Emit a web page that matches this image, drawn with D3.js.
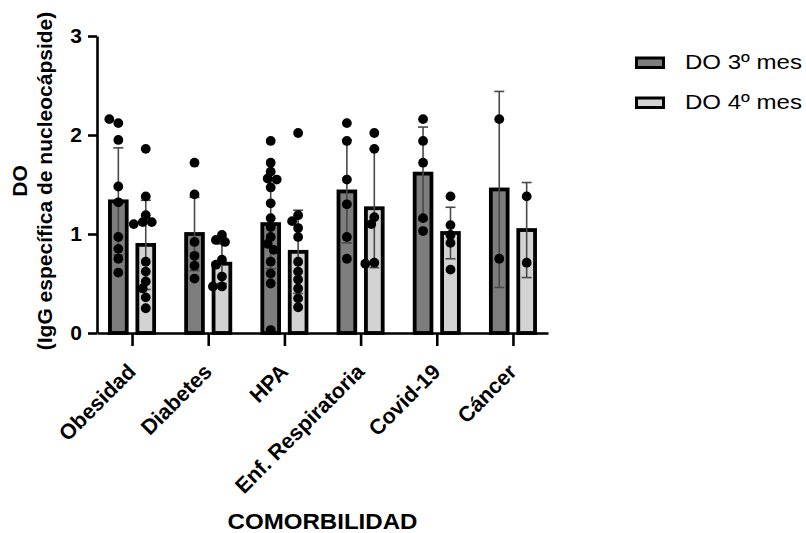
<!DOCTYPE html>
<html>
<head>
<meta charset="utf-8">
<script src="https://cdn.jsdelivr.net/npm/d3@7"></script>
<style>
  body { margin: 0; background: #fff; }
  text { font-family: Arial, "Liberation Sans", sans-serif; fill: #000; }
</style>
</head>
<body>
<svg id="chart" width="806" height="533"></svg>
<script>
// categories and legend names
var categories = ["Obesidad", "Diabetes", "HPA", "Enf. Respiratoria", "Covid-19", "Cáncer"];
var seriesNames = ["DO 3º mes", "DO 4º mes"];

// bar heights (mean)
var mean3 = [1.33, 1.00, 1.10, 1.43, 1.61, 1.45];
var mean4 = [0.89, 0.70, 0.82, 1.26, 1.01, 1.04];

// error bars (SD)
var sd3 = [0.54, 0.37, 0.45, 0.52, 0.47, 0.99];
var sd4 = [0.45, 0.20, 0.42, 0.60, 0.26, 0.48];

// individual points per category
var points3 = [
  [2.12, 2.16, 1.95, 1.48, 1.32, 0.97, 0.85, 0.75, 0.61],
  [1.72, 1.40, 0.92, 0.78, 0.68, 0.55],
  [1.94, 1.72, 1.63, 1.56, 1.55, 1.47, 1.31, 1.16, 1.07, 0.97, 0.90, 0.84, 0.72, 0.60, 0.50, 0.03],
  [2.12, 1.94, 1.55, 1.30, 0.97, 0.75],
  [2.16, 1.94, 1.72, 1.16, 1.03],
  [2.16, 0.75]
];
var points4 = [
  [1.86, 1.38, 1.19, 1.12, 1.12, 1.10, 0.72, 0.62, 0.52, 0.45, 0.36, 0.25],
  [0.99, 0.94, 0.92, 0.74, 0.69, 0.57, 0.47, 0.47],
  [2.02, 1.19, 1.13, 1.06, 0.97, 0.72, 0.62, 0.54, 0.45, 0.35, 0.26],
  [2.02, 1.86, 1.17, 1.10, 0.71, 0.70],
  [1.38, 1.09, 0.99, 0.91, 0.64],
  [1.38, 0.71]
];

var yTicks = [0, 1, 2, 3];

var means = [mean3, mean4];
var sds = [sd3, sd4];
var points = [points3, points4];
var fills = ["#7d7d7d", "#d3d3d3"];

var svg = d3.select("#chart");
var margin = {top: 36, right: 258, bottom: 200, left: 97};
var width = 806 - margin.left - margin.right;
var height = 533 - margin.top - margin.bottom;

var chartGroup = svg.append("g")
  .attr("transform", `translate(${margin.left}, ${margin.top})`);

// scales
var xScale = d3.scalePoint()
  .domain(categories)
  .range([0, width])
  .padding(0.46);

var xSub = d3.scaleBand()
  .domain([0, 1])
  .range([-24, 24])
  .paddingInner(0.25);

var yScale = d3.scaleLinear()
  .domain([0, 3])
  .range([height, 0]);

// flatten bars
var bars = [];
categories.forEach(function(c, i) {
  [0, 1].forEach(function(s) {
    bars.push({cat: c, s: s, mean: means[s][i], sd: sds[s][i], pts: points[s][i]});
  });
});

var barStroke = 3.8;
var bw = xSub.bandwidth();

// bars
chartGroup.selectAll(".bar")
  .data(bars)
  .enter()
  .append("rect")
  .attr("class", "bar")
  .attr("x", d => xScale(d.cat) + xSub(d.s) + barStroke / 2)
  .attr("y", d => yScale(d.mean))
  .attr("width", bw - barStroke)
  .attr("height", d => yScale(0) - yScale(d.mean))
  .attr("fill", d => fills[d.s])
  .attr("stroke", "#000")
  .attr("stroke-width", barStroke);

// axes
var leftAxis = d3.axisLeft(yScale)
  .tickValues(yTicks)
  .tickFormat(d3.format("d"))
  .tickSize(9)
  .tickSizeOuter(0)
  .tickPadding(6);

var bottomAxis = d3.axisBottom(xScale)
  .tickSize(13)
  .tickSizeOuter(0)
  .tickFormat("");

var yAxis = chartGroup.append("g").call(leftAxis);
var xAxis = chartGroup.append("g")
  .attr("transform", `translate(0, ${height})`)
  .call(bottomAxis);

[xAxis, yAxis].forEach(function(a) {
  a.select(".domain").attr("stroke", "#000").attr("stroke-width", 2.6);
  a.selectAll(".tick line").attr("stroke", "#000").attr("stroke-width", 2.6);
});

yAxis.selectAll(".tick text")
  .style("font-size", "21px")
  .style("font-weight", "bold")
  .attr("fill", "#000");

// error bars
var errGroup = chartGroup.selectAll(".err")
  .data(bars)
  .enter()
  .append("g")
  .attr("class", "err")
  .attr("transform", d => `translate(${xScale(d.cat) + xSub(d.s) + bw / 2}, 0)`)
  .attr("stroke", "#4a4a4a")
  .attr("stroke-width", 1.6);

errGroup.append("line")
  .attr("y1", d => yScale(d.mean - d.sd))
  .attr("y2", d => yScale(d.mean + d.sd));
errGroup.append("line")
  .attr("x1", -5).attr("x2", 5)
  .attr("y1", d => yScale(d.mean + d.sd))
  .attr("y2", d => yScale(d.mean + d.sd));
errGroup.append("line")
  .attr("x1", -5).attr("x2", 5)
  .attr("y1", d => yScale(d.mean - d.sd))
  .attr("y2", d => yScale(d.mean - d.sd));

// dots, spread sideways when they overlap
var r = 4.9;
function swarm(vals) {
  var placed = [];
  vals.forEach(function(v) {
    var py = yScale(v);
    var k = 0;
    var dx = 0;
    while (true) {
      dx = (k === 0) ? 0 : (k % 2 === 1 ? -1 : 1) * Math.ceil(k / 2) * 3;
      var ok = placed.every(p => Math.hypot(p.x - dx, p.y - py) >= 2 * r * 0.75);
      if (ok) break;
      k++;
    }
    placed.push({x: dx, y: py});
  });
  return placed;
}

bars.forEach(function(b) {
  var cx = xScale(b.cat) + xSub(b.s) + bw / 2;
  chartGroup.append("g")
    .selectAll("circle")
    .data(swarm(b.pts))
    .enter()
    .append("circle")
    .attr("cx", d => cx + d.x)
    .attr("cy", d => d.y)
    .attr("r", r)
    .attr("fill", "#000");
});

// x labels
chartGroup.selectAll(".xlab")
  .data(categories)
  .enter()
  .append("text")
  .attr("class", "xlab")
  .attr("transform", d => `translate(${xScale(d) + 5}, ${height + 40}) rotate(-45)`)
  .attr("text-anchor", "end")
  .style("font-size", "21.5px")
  .style("font-weight", "bold")
  .text(d => d);

// axis titles
svg.append("text")
  .attr("x", margin.left + width / 2)
  .attr("y", 529)
  .attr("text-anchor", "middle")
  .attr("textLength", 190)
  .attr("lengthAdjust", "spacingAndGlyphs")
  .style("font-size", "22px")
  .style("font-weight", "bold")
  .text("COMORBILIDAD");

var yTitle = svg.append("text")
  .attr("transform", "rotate(-90)")
  .attr("text-anchor", "middle")
  .style("font-size", "21px")
  .style("font-weight", "bold");
yTitle.append("tspan").attr("x", -181).attr("y", 27).text("DO");
yTitle.append("tspan").attr("x", -181).attr("y", 52).text("(IgG específica de nucleocápside)");

// legend
var legend = svg.selectAll(".legend")
  .data(seriesNames)
  .enter()
  .append("g")
  .attr("class", "legend")
  .attr("transform", (d, i) => `translate(635, ${56.5 + i * 40})`);

legend.append("rect")
  .attr("x", 1.5)
  .attr("y", 1.5)
  .attr("width", 27)
  .attr("height", 9.5)
  .attr("fill", (d, i) => fills[i])
  .attr("stroke", "#000")
  .attr("stroke-width", 3);

legend.append("text")
  .attr("x", 50)
  .attr("y", 12.5)
  .attr("textLength", 117)
  .attr("lengthAdjust", "spacingAndGlyphs")
  .style("font-size", "21px")
  .text(d => d);
</script>
</body>
</html>
